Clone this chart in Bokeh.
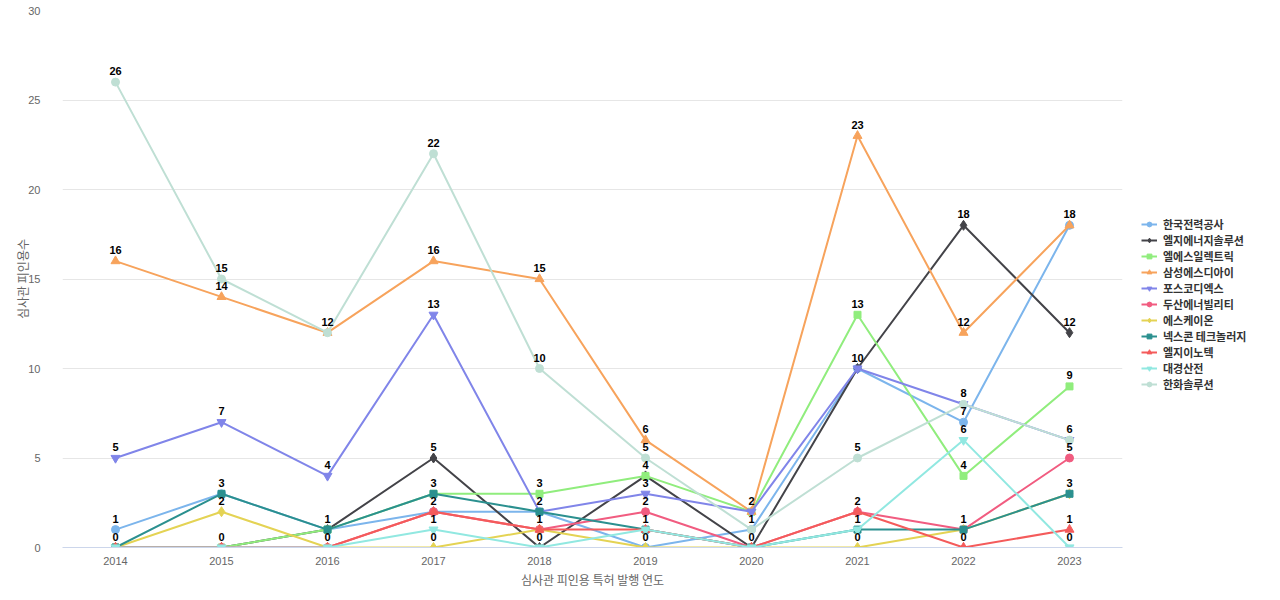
from bokeh.plotting import figure
from bokeh.models import Legend, LegendItem, FixedTicker, ColumnDataSource, FactorRange, Range1d, Title
from bokeh.embed import file_html
from bokeh.resources import INLINE
from bokeh.core.properties import value

years = ["2014", "2015", "2016", "2017", "2018", "2019", "2020", "2021", "2022", "2023"]
names = ["한국전력공사", "엘지에너지솔루션", "엘에스일렉트릭", "삼성에스디아이", "포스코디엑스",
         "두산에너빌리티", "에스케이온", "넥스콘 테크놀러지", "엘지이노텍", "대경산전", "한화솔루션"]
kepco = [1, 3, 1, 2, 2, 0, 1, 10, 7, 18]
lges = [0, 0, 1, 5, 0, 4, 0, 10, 18, 12]
ls_electric = [0, 0, 1, 3, 3, 4, 2, 13, 4, 9]
samsung_sdi = [16, 14, 12, 16, 15, 6, 2, 23, 12, 18]
posco_dx = [5, 7, 4, 13, 2, 3, 2, 10, 8, 6]
doosan = [0, 0, 0, 2, 1, 2, 0, 2, 1, 5]
sk_on = [0, 2, 0, 0, 1, 0, 0, 0, 1, 3]
nexcon = [0, 3, 1, 3, 2, 1, 0, 1, 1, 3]
lg_innotek = [0, 0, 0, 2, 1, 1, 0, 2, 0, 1]
daekyung = [0, 0, 0, 1, 0, 1, 0, 1, 6, 0]
hanwha = [26, 15, 12, 22, 10, 5, 1, 5, 8, 6]
series = [kepco, lges, ls_electric, samsung_sdi, posco_dx, doosan, sk_on, nexcon, lg_innotek, daekyung, hanwha]

colors = ["#7cb5ec", "#434348", "#90ed7d", "#f7a35c", "#8085e9", "#f15c80",
          "#e4d354", "#2b908f", "#f45b5b", "#91e8e1", "#bfdfd4"]
markers = ["circle", "diamond", "square", "triangle", "inverted_triangle",
           "circle", "diamond", "square", "triangle", "inverted_triangle", "circle"]
msizes = {"circle": 8, "diamond": 10, "square": 7, "triangle": 9, "inverted_triangle": 9}

KR = "Noto Sans CJK KR"
LAT = "Liberation Sans"

p = figure(x_range=FactorRange(*years), y_range=Range1d(0, 30),
           frame_width=1060, frame_height=537, output_backend="svg", toolbar_location=None,
           min_border_left=52, min_border_top=10, min_border_bottom=44, min_border_right=0)
p.outline_line_color = None
p.background_fill_color = "white"

items = []
for name, vals, c, m in zip(names, series, colors, markers):
    src = ColumnDataSource(dict(x=years, y=vals))
    r1 = p.line("x", "y", source=src, line_color=c, line_width=2)
    r2 = p.scatter("x", "y", source=src, marker=m, size=msizes[m], fill_color=c, line_color=c)
    items.append(LegendItem(label=name, renderers=[r1, r2]))

# data labels: one per distinct value per year
lx, ly, lt = [], [], []
for i, yr in enumerate(years):
    seen = sorted(set(s[i] for s in series))
    for v in seen:
        lx.append(yr)
        ly.append(v)
        lt.append(str(v))
p.text(x=lx, y=ly, text=lt, text_font=value(LAT), text_font_style="bold",
       text_font_size="11px", text_color="#000000", text_align="center",
       text_baseline="bottom", y_offset=-7)

legend = Legend(items=items, location="top_left")
legend.title = " "
legend.title_text_font_size = "12px"
legend.title_standoff = 173
legend.label_text_font = KR
legend.label_text_font_style = "bold"
legend.label_text_font_size = "11px"
legend.label_text_color = "#333333"
legend.glyph_width = 16
legend.glyph_height = 12
legend.label_height = 12
legend.spacing = 0
legend.padding = 0
legend.margin = 19
legend.label_standoff = 6
legend.border_line_color = None
legend.background_fill_alpha = 0
p.add_layout(legend, "right")

# blank spacer on the far left
p.add_layout(Title(text=" ", text_font_size="8px", standoff=0, offset=0), "left")

p.xgrid.grid_line_color = None
p.ygrid.grid_line_color = "#e6e6e6"
p.yaxis.ticker = FixedTicker(ticks=[0, 5, 10, 15, 20, 25, 30])

p.yaxis.axis_line_color = None
p.yaxis.major_tick_line_color = None
p.yaxis.minor_tick_line_color = None
p.yaxis.major_label_standoff = 16
p.yaxis.major_label_text_font = LAT
p.yaxis.major_label_text_font_size = "11px"
p.yaxis.major_label_text_color = "#666666"
p.yaxis.axis_label = "심사관 피인용수"
p.yaxis.axis_label_text_font = KR
p.yaxis.axis_label_text_font_style = "normal"
p.yaxis.axis_label_text_font_size = "12px"
p.yaxis.axis_label_text_color = "#666666"
p.yaxis.axis_label_standoff = -6

p.xaxis.axis_line_color = "#ccd6eb"
p.xaxis.major_tick_line_color = None
p.xaxis.minor_tick_line_color = None
p.xaxis.major_label_standoff = 3
p.xaxis.major_label_text_font = LAT
p.xaxis.major_label_text_font_size = "11px"
p.xaxis.major_label_text_color = "#666666"
p.xaxis.axis_label = "심사관 피인용 특허 발행 연도"
p.xaxis.axis_label_text_font = KR
p.xaxis.axis_label_text_font_style = "normal"
p.xaxis.axis_label_text_font_size = "12px"
p.xaxis.axis_label_text_color = "#666666"
p.xaxis.axis_label_standoff = 3

open("out.html", "w").write(file_html(p, INLINE))
